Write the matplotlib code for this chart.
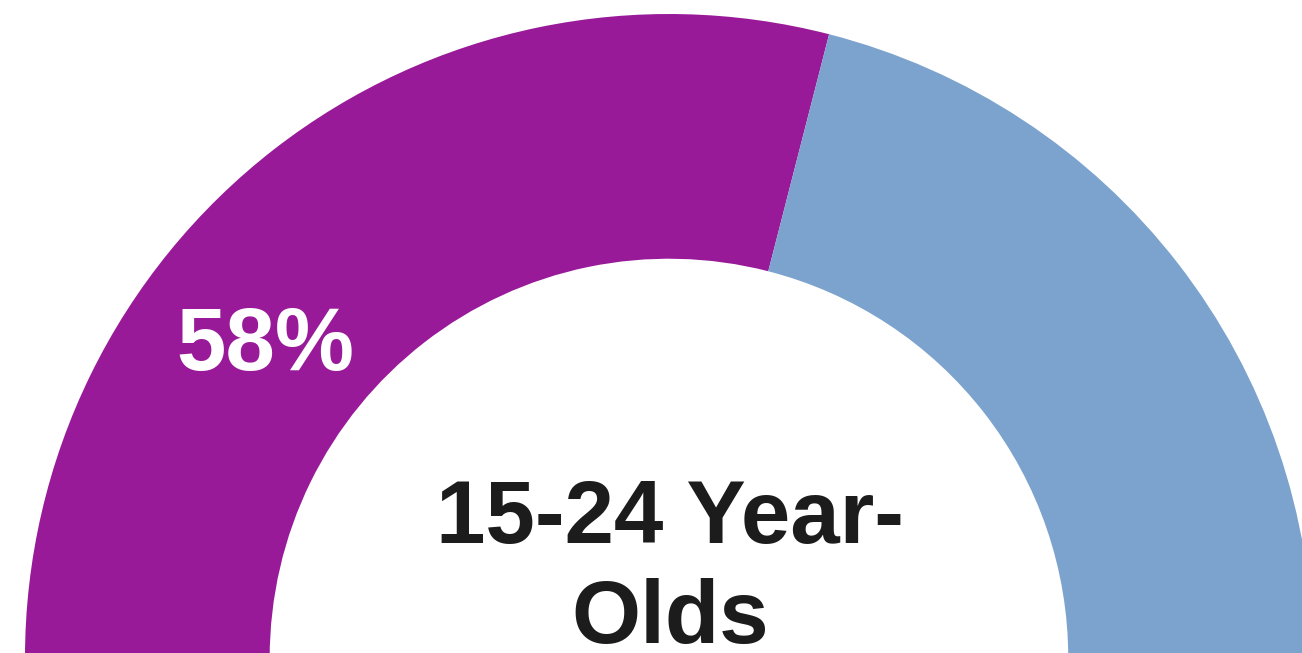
import matplotlib
matplotlib.use('Agg')
import matplotlib.pyplot as plt

# share of 15-24 year-olds, top half of a donut
labels  = ['Yes', 'No']
shares  = [58, 42]
colors  = ['#991A99', '#7BA3CD']
title   = ['15-24 Year-', 'Olds']

plt.rcParams['font.family'] = ['Liberation Sans', 'DejaVu Sans']

fig = plt.figure(figsize=(13.02, 6.53), dpi=100)
ax = fig.add_axes([0, 0, 1, 1])

# bottom half is an invisible slice so the visible part spans 180 degrees
wedges, _ = ax.pie(shares + [sum(shares)], colors=colors + ['none'],
                   startangle=180, counterclock=False, radius=1.0,
                   wedgeprops=dict(width=0.38, linewidth=0))

ax.text(-0.627, 0.447, f'{shares[0]}%', color='white', fontsize=64,
        fontweight='bold', ha='center', va='baseline')
for line, y in zip(title, [0.1786, 0.0233]):
    ax.text(0.002, y, line, color='#1C1C1C', fontsize=64,
            fontweight='bold', ha='center', va='baseline')

ax.set_xlim(-1.0388, 0.983)
ax.set_ylim(0.0078, 1.0217)
ax.set_aspect('equal')
ax.axis('off')

fig.savefig('out.png', dpi=100)
